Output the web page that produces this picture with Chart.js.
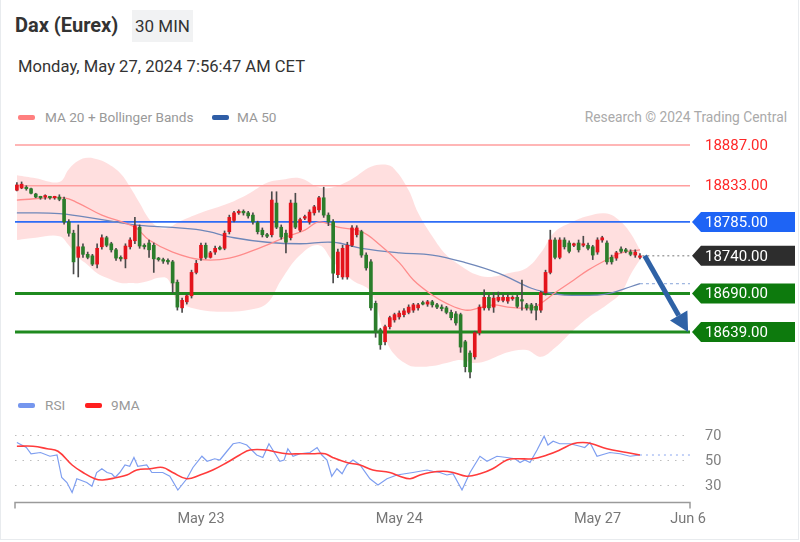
<!DOCTYPE html>
<html>
<head>
<meta charset="utf-8">
<script src="https://cdn.jsdelivr.net/npm/chart.js@4.4.1/dist/chart.umd.min.js"></script>
<style>
  body { margin: 0; background: #fff; font-family: Roboto, "Liberation Sans", Arial, sans-serif; }
  #wrap { position: relative; width: 800px; height: 542px; overflow: hidden; }
  #frame { position: absolute; left: 0; top: 0; width: 797px; height: 539px; border: 1px solid #e8ebee; border-top: none; }
  .abs { position: absolute; white-space: nowrap; }
  #title { left: 15px; top: 11px; font-size: 20px; font-weight: bold; color: #333; line-height: 28px; }
  #tf { left: 132px; top: 10px; width: 61px; height: 32px; background: #f1f2f3; color: #333; font-size: 17px; line-height: 32px; text-align: center; }
  #date { left: 18px; top: 55px; font-size: 16.6px; color: #333; line-height: 24px; }
  .lg { font-size: 13.6px; color: #999; line-height: 16px; }
  .sw { position: absolute; height: 5px; border-radius: 2px; }
  #credit { right: 13px; top: 109px; font-size: 13.8px; color: #aaa; line-height: 16px; }
  canvas { position: absolute; left: 0; }
</style>
</head>
<body>
<div id="wrap">
  <div id="frame"></div>
  <div class="abs" id="title">Dax (Eurex)</div>
  <div class="abs" id="tf">30 MIN</div>
  <div class="abs" id="date">Monday, May 27, 2024 7:56:47 AM CET</div>

  <div class="sw" style="left:18px;top:115px;width:17px;background:#ff7f7f"></div>
  <div class="abs lg" style="left:45px;top:109px">MA 20 + Bollinger Bands</div>
  <div class="sw" style="left:212px;top:115px;width:17px;background:#2f5ea6"></div>
  <div class="abs lg" style="left:237px;top:109px">MA 50</div>
  <div class="abs" id="credit">Research © 2024 Trading Central</div>

  <div class="sw" style="left:18px;top:403px;width:17px;background:#7596ee"></div>
  <div class="abs lg" style="left:45px;top:397px">RSI</div>
  <div class="sw" style="left:85px;top:403px;width:17px;background:#ff1f1f"></div>
  <div class="abs lg" style="left:111px;top:397px">9MA</div>

  <canvas id="price" width="800" height="262" style="top:130px"></canvas>
  <canvas id="rsi" width="800" height="150" style="top:392px"></canvas>
</div>

<script>
// ================= DATA =================
// candles, 30 min, index 0 = first candle on the left
const candleOpen = [
  18827,18830,18831,18829,18822,18818,18818,18818,18817,18818,
  18815,18785,18770,18738,18752,18742,18740,18729,18752,18764,
  18756,18748,18737,18736,18752,18760,18778,18753,18757,18754,
  18736,18735,18733,18732,18705,18671,18679,18687,18718,18737,
  18754,18738,18745,18750,18750,18772,18787,18797,18798,18797,
  18794,18784,18774,18768,18768,18810,18778,18770,18764,18810,
  18774,18790,18785,18797,18801,18817,18794,18785,18715,18712,
  18712,18754,18768,18772,18741,18732,18677,18642,18626,18646,
  18655,18659,18662,18665,18668,18671,18677,18676,18679,18675,
  18672,18671,18665,18663,18662,18626,18611,18606,18638,18671,
  18685,18672,18681,18681,18680,18683,18685,18681,18675,18675,
  18673,18668,18691,18718,18761,18738,18761,18757,18754,18757,
  18754,18754,18752,18745,18761,18757,18738,18737,18749,18748,
  18745,18741,18738
];
const candleHigh = [
  18837,18838,18833,18830,18823,18819,18821,18819,18819,18821,
  18818,18788,18774,18781,18756,18745,18742,18756,18768,18766,
  18758,18750,18740,18756,18764,18791,18781,18756,18761,18757,
  18738,18737,18736,18734,18708,18684,18689,18721,18734,18757,
  18757,18746,18753,18753,18773,18794,18799,18801,18801,18799,
  18797,18786,18777,18770,18825,18825,18781,18774,18814,18823,
  18790,18794,18801,18807,18819,18831,18797,18788,18749,18754,
  18758,18780,18780,18774,18744,18735,18680,18644,18648,18660,
  18664,18667,18670,18675,18677,18677,18680,18681,18681,18677,
  18675,18673,18668,18666,18664,18628,18614,18640,18675,18695,
  18688,18691,18692,18689,18689,18687,18688,18708,18677,18677,
  18677,18693,18721,18774,18764,18764,18764,18760,18757,18761,
  18766,18757,18754,18764,18766,18760,18741,18746,18752,18750,
  18748,18748,18743
];
const candleLow = [
  18826,18829,18827,18822,18817,18815,18815,18815,18815,18813,
  18782,18766,18716,18712,18738,18736,18727,18724,18749,18752,
  18745,18734,18733,18724,18749,18756,18750,18749,18738,18718,
  18733,18730,18729,18691,18668,18665,18676,18684,18716,18734,
  18736,18737,18742,18748,18748,18769,18785,18795,18794,18790,
  18782,18769,18765,18764,18765,18776,18762,18744,18761,18776,
  18772,18788,18782,18794,18798,18791,18780,18704,18711,18709,
  18709,18752,18765,18738,18721,18668,18632,18616,18622,18643,
  18652,18656,18659,18663,18665,18668,18675,18673,18672,18670,
  18667,18663,18655,18648,18612,18586,18578,18603,18635,18668,
  18668,18665,18679,18679,18677,18681,18671,18668,18668,18664,
  18655,18665,18688,18716,18736,18736,18749,18744,18752,18745,
  18752,18748,18735,18742,18758,18729,18729,18734,18744,18744,
  18740,18738,18736
];
const candleClose = [
  18834,18835,18829,18823,18818,18817,18819,18817,18818,18815,
  18785,18770,18732,18752,18742,18738,18729,18750,18764,18754,
  18748,18737,18736,18753,18761,18780,18753,18752,18748,18736,
  18735,18733,18732,18704,18672,18681,18687,18718,18730,18754,
  18738,18744,18750,18749,18770,18791,18797,18798,18797,18793,
  18785,18772,18768,18766,18814,18778,18765,18758,18810,18778,
  18788,18791,18798,18805,18817,18794,18785,18717,18745,18750,
  18754,18777,18777,18741,18724,18671,18638,18622,18646,18658,
  18662,18664,18667,18672,18675,18675,18676,18679,18675,18672,
  18670,18665,18658,18651,18619,18593,18586,18638,18672,18685,
  18671,18684,18685,18685,18685,18684,18673,18680,18671,18668,
  18668,18691,18718,18761,18738,18761,18752,18746,18755,18748,
  18755,18750,18741,18761,18764,18732,18732,18744,18746,18746,
  18742,18745,18740
];

// Bollinger bands (20) read at these candle indices
const bandIdx   = [0,4,9,11,13,15,17,19,22,24,26,28,30,32,34,39,45,49,53,56,60,64,67,71,75,78,80,83,85,88,91,94,97,100,104,108,111,114,118,121,125,128,130,132];
const bandUpper = [18847,18843,18838,18855,18866,18870,18868,18863,18849,18831,18810,18789,18778,18777,18784,18797,18810,18822,18837,18841,18843,18831,18831,18842,18858,18861,18855,18827,18797,18766,18741,18727,18716,18712,18717,18724,18744,18772,18786,18793,18796,18785,18770,18748];
const bandLower = [18761,18764,18766,18754,18738,18728,18717,18711,18704,18704,18704,18707,18711,18709,18681,18668,18666,18668,18677,18708,18741,18754,18732,18708,18692,18632,18609,18595,18593,18594,18598,18602,18598,18602,18612,18615,18606,18618,18642,18658,18675,18691,18715,18735];

const ma20Idx = [0,10,13,18,25,28,33,39,45,52,57,61,64,68,73,77,81,84,88,91,95,98,101,104,109,111,114,118,121,125,128,132];
const ma20    = [18814,18817,18810,18794,18778,18761,18745,18735,18737,18752,18765,18774,18785,18778,18772,18754,18731,18708,18688,18677,18668,18671,18675,18672,18671,18677,18691,18708,18721,18735,18744,18748];

const ma50Idx = [0,9,18,25,32,39,46,53,60,67,73,81,88,95,102,109,112,116,123,126,130,132];
const ma50    = [18797,18796,18788,18781,18778,18774,18764,18758,18756,18758,18750,18744,18741,18731,18717,18697,18692,18688,18688,18691,18699,18703];

// key levels on the right
const levelValues = [18887, 18833, 18785, 18740, 18690, 18639];

// forecast arrow: [candle index, price]
const arrowFrom = [133, 18740];
const arrowTo   = [142.2, 18639];

// RSI pane
const rsiIdx = [0,2,3,5,7,8.5,9.5,10.6,11.7,12.7,14.8,15.9,16.9,18,19.1,20.1,20.8,21.8,22.9,23.9,24.8,25.6,27.5,28.6,30.9,32.4,34.1,36,37.3,39.2,40.3,41.9,43,44.5,45.8,47.2,48.7,50.8,52.1,53.4,54.7,55.7,56.6,57.4,58.5,60,62.1,63.6,64.6,65.7,66.7,67.8,68.9,69.9,71.2,72.7,74.8,76.5,78.4,80.5,83.9,86.9,88.1,89.6,91.1,92.4,94.3,96,98.1,99.6,101.7,103.8,105.5,106.6,107.6,108.7,110.2,111.7,112.5,113.6,115,117.2,119.3,120.3,121.4,122.9,125.6,127.8,129.9,132];
const rsiVal = [64,60,55,56,53,54,36,32,24,35,32,29,40,43,40,39,36,40,46,45,52,45,46,40,40,37,26,35,44,53,49,51,50,57,63,64,62,54,52,63,55,49,50,59,53,55,56,60,54,50,37,43,39,46,50,46,35,30,35,38,40,42,41,40,38,39,26,40,53,49,53,52,51,48,50,48,58,69,62,65,63,63,61,60,64,53,56,55,53,54];

const rsiMaIdx = [0,3.4,6.4,8.7,11.7,14,16.5,18.2,21.2,23.3,25.4,28.2,30.9,33,36,38.8,41.5,44.5,47.2,49.4,53,54.2,57.2,60,62.7,65.3,66.9,69.9,72.7,75.4,79,81.1,83.3,85.4,87.5,90.3,92.4,95.3,98.1,100.8,103.8,105.9,109.3,112.3,115,117.8,119.9,121.8,125,129.2,132];
const rsiMaVal = [61,61,59,57,46,40,35,34,36,38,42,43,44,40,35,38,42,48,54,58,58,57,55,55,55,55,52,48,46,42,40,37,35,38,40,41,40,37,39,43,50,51,51,54,58,63,64,63,59,56,54];

const rsiTicks = [30, 50, 70];
const dateTicks = [39, 81, 123, 142.2];
const dateLabels = ['May 23', 'May 24', 'May 27', 'Jun 6'];

// ================= STYLE =================
const X_MIN = -0.4, X_MAX = 142.6;
const FONT = 'Roboto, "Liberation Sans", Arial, sans-serif';
const UP = '#e3141c', DOWN = '#2b7d2b';

const levelStyle = [
  { line: '#ff9e9e', width: 1.5, text: '#ff2727' },
  { line: '#ff9e9e', width: 1.5, text: '#ff2727' },
  { line: '#2d6cf6', width: 1.8, tag: '#1e64f5' },
  { line: '#777',    width: 1,   dash: [2, 3], fromLast: true, tag: '#2d2d2d' },
  { line: '#1f8a1f', width: 3,   tag: '#0d7a0d' },
  { line: '#1f8a1f', width: 3,   tag: '#0d7a0d' }
];

const pts = (xs, ys) => xs.map((x, i) => ({ x, y: ys[i] }));
const idx = candleClose.map((_, i) => i);
const lastIdx = idx[idx.length - 1];

// ================= PRICE CHART =================
const levelSets = levelValues.map((v, k) => {
  const s = levelStyle[k];
  return {
    type: 'line',
    data: [{ x: s.fromLast ? lastIdx + 0.5 : X_MIN, y: v }, { x: X_MAX, y: v }],
    borderColor: s.line,
    borderWidth: s.width,
    borderDash: s.dash || [],
    pointRadius: 0,
    order: 8
  };
});

const priceDeco = {
  id: 'priceDeco',
  afterDatasetsDraw(chart) {
    const { ctx, chartArea, scales: { x, y } } = chart;
    ctx.save();

    // forecast arrow
    const x0 = x.getPixelForValue(arrowFrom[0]), y0 = y.getPixelForValue(arrowFrom[1]);
    const x1 = x.getPixelForValue(arrowTo[0]),   y1 = y.getPixelForValue(arrowTo[1]);
    const ang = Math.atan2(y1 - y0, x1 - x0);
    const head = 19, half = 10;
    const bx = x1 - head * Math.cos(ang), by = y1 - head * Math.sin(ang);
    ctx.strokeStyle = '#2f62a6';
    ctx.fillStyle = '#2f62a6';
    ctx.lineWidth = 5;
    ctx.beginPath(); ctx.moveTo(x0, y0); ctx.lineTo(bx, by); ctx.stroke();
    ctx.beginPath();
    ctx.moveTo(x1, y1);
    ctx.lineTo(bx + half * Math.sin(ang), by - half * Math.cos(ang));
    ctx.lineTo(bx - half * Math.sin(ang), by + half * Math.cos(ang));
    ctx.closePath(); ctx.fill();

    // right side labels
    ctx.font = '15px ' + FONT;
    ctx.textBaseline = 'middle';
    levelValues.forEach((v, k) => {
      const s = levelStyle[k];
      const py = y.getPixelForValue(v);
      const tip = chartArea.right + 2;
      if (s.tag) {
        const h = 20, w = 103;
        ctx.fillStyle = s.tag;
        ctx.beginPath();
        ctx.moveTo(tip, py);
        ctx.lineTo(tip + 9, py - h / 2);
        ctx.lineTo(tip + w, py - h / 2);
        ctx.lineTo(tip + w, py + h / 2);
        ctx.lineTo(tip + 9, py + h / 2);
        ctx.closePath(); ctx.fill();
        ctx.fillStyle = '#fff';
      } else {
        ctx.fillStyle = s.text;
      }
      ctx.fillText(v.toFixed(2), chartArea.right + 15, py + 1);
    });
    ctx.restore();
  }
};

new Chart(document.getElementById('price'), {
  type: 'bar',
  data: {
    datasets: [
      { type: 'line', data: pts(bandIdx, bandUpper), borderWidth: 0, pointRadius: 0, tension: 0.4,
        fill: '+1', backgroundColor: 'rgba(255,140,140,0.28)', order: 10 },
      { type: 'line', data: pts(bandIdx, bandLower), borderWidth: 0, pointRadius: 0, tension: 0.4,
        fill: false, order: 10 },
      ...levelSets,
      { type: 'line', data: [{ x: ma50Idx[ma50Idx.length - 1], y: ma50[ma50.length - 1] }, { x: X_MAX, y: ma50[ma50.length - 1] }],
        borderColor: '#86a3d8', borderWidth: 1, borderDash: [3, 3], pointRadius: 0, order: 7 },
      { type: 'line', data: pts(ma50Idx, ma50), borderColor: '#6f87b9', borderWidth: 1.3, pointRadius: 0, tension: 0.4, order: 6 },
      { type: 'line', data: pts(ma20Idx, ma20), borderColor: '#ff8c8c', borderWidth: 1.3, pointRadius: 0, tension: 0.4, order: 5 },
      { data: idx.map(i => ({ x: i, y: [candleLow[i], candleHigh[i]] })),
        backgroundColor: '#4a4a4a', barThickness: 1, grouped: false, order: 2 },
      { data: idx.map(i => ({ x: i, y: [candleOpen[i], candleClose[i]] })),
        backgroundColor: idx.map(i => candleClose[i] >= candleOpen[i] ? UP : DOWN),
        barThickness: 3, minBarLength: 1.5, grouped: false, order: 1 }
    ]
  },
  options: {
    responsive: false,
    animation: false,
    devicePixelRatio: 1,
    layout: { padding: { left: 15, right: 110, top: 0, bottom: 0 } },
    plugins: { legend: { display: false }, tooltip: { enabled: false } },
    scales: {
      x: { type: 'linear', display: false, min: X_MIN, max: X_MAX, offset: false },
      y: { type: 'linear', display: false, min: 18559.4, max: 18906.9 }
    }
  },
  plugins: [priceDeco]
});

// ================= RSI CHART =================
const rsiDeco = {
  id: 'rsiDeco',
  beforeDatasetsDraw(chart) {
    const { ctx, chartArea, scales: { y } } = chart;
    ctx.save();
    ctx.strokeStyle = '#bdbdbd';
    ctx.lineWidth = 1;
    ctx.setLineDash([1.5, 6]);
    rsiTicks.forEach(t => {
      const py = Math.round(y.getPixelForValue(t)) + 0.5;
      ctx.beginPath(); ctx.moveTo(chartArea.left, py); ctx.lineTo(chartArea.right - 2, py); ctx.stroke();
    });
    ctx.restore();
  },
  afterDraw(chart) {
    const { ctx, chartArea, scales: { x, y } } = chart;
    ctx.save();
    ctx.font = '14.5px ' + FONT;
    ctx.fillStyle = '#808080';
    ctx.textBaseline = 'middle';
    rsiTicks.forEach(t => ctx.fillText(String(t), chartArea.right + 15, y.getPixelForValue(t) + 1));

    // x axis line with end ticks
    const by = chartArea.bottom + 0.5;
    ctx.strokeStyle = '#9a9a9a';
    ctx.lineWidth = 1.5;
    ctx.beginPath();
    ctx.moveTo(chartArea.left, by + 6); ctx.lineTo(chartArea.left, by);
    ctx.lineTo(chartArea.right, by); ctx.lineTo(chartArea.right, by + 6);
    ctx.stroke();

    ctx.textAlign = 'center';
    ctx.fillStyle = '#777';
    dateTicks.forEach((t, k) => ctx.fillText(dateLabels[k], x.getPixelForValue(t), chartArea.bottom + 17));
    ctx.restore();
  }
};

new Chart(document.getElementById('rsi'), {
  type: 'line',
  data: {
    datasets: [
      { data: pts(rsiMaIdx, rsiMaVal), borderColor: '#ff3b3b', borderWidth: 1.6, pointRadius: 0, tension: 0.4, order: 1 },
      { data: pts(rsiIdx, rsiVal), borderColor: '#7e9ef0', borderWidth: 1.2, pointRadius: 0, tension: 0, order: 2 },
      { data: [{ x: rsiIdx[rsiIdx.length - 1], y: rsiVal[rsiVal.length - 1] }, { x: X_MAX, y: rsiVal[rsiVal.length - 1] }],
        borderColor: '#8aa6f0', borderWidth: 1, borderDash: [2, 4], pointRadius: 0, order: 3 }
    ]
  },
  options: {
    responsive: false,
    animation: false,
    devicePixelRatio: 1,
    layout: { padding: { left: 15, right: 110, top: 28, bottom: 40 } },
    plugins: { legend: { display: false }, tooltip: { enabled: false } },
    scales: {
      x: { type: 'linear', display: false, min: X_MIN, max: X_MAX },
      y: { type: 'linear', display: false, min: 16.4, max: 82 }
    }
  },
  plugins: [rsiDeco]
});
</script>
</body>
</html>
